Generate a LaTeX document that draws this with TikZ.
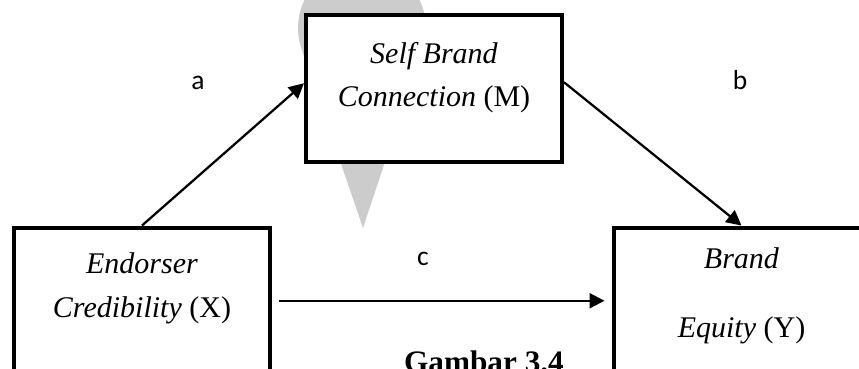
\documentclass[tikz,border=0pt]{standalone}
\usepackage{fontspec}
\setmainfont{Liberation Serif}
\newfontfamily\coeffont{Carlito}
\usetikzlibrary{arrows.meta,positioning}

\begin{document}
\begin{tikzpicture}[x=0.4pt, y=-0.4pt,
    varbox/.style={draw, fill=white, line width=1.6pt, minimum width=102.4pt, minimum height=58.6pt, inner sep=0pt},
    vartext/.style={align=center, inner sep=0pt, font=\fontsize{12}{17.4}\selectfont},
    link/.style={-{Triangle[length=6pt, width=6pt]}, line width=0.9pt},
    coef/.style={anchor=base, inner sep=0pt, font=\coeffont\fontsize{11}{13}\selectfont}]
\useasboundingbox (0,0) rectangle (859,368);
\clip (0,0) rectangle (859,368);

% grey mark behind the mediator
\fill[black!20] (363,228) -- (301.4,48.5) arc[start angle=161.34, end angle=378.66, radius=64] -- cycle;

% variables
\node[varbox] (X) at (142,300.75) {};
\node[varbox] (M) at (434,88.25) {};
\node[varbox] (Y) at (741.5,300.75) {};

\node[vartext, below=10.8pt of X.north] (Xtext) {\textit{Endorser}\\\textit{Credibility} (X)};
\node[vartext, below=11.4pt of M.north] (Mtext) {\textit{Self Brand}\\\textit{Connection} (M)};
\node[vartext, font=\fontsize{12}{27.6}\selectfont, below=8.8pt of Y.north] (Ytext) {\textit{Brand}\\\textit{Equity} (Y)};

% paths
\draw[link] (X.north) -- ([yshift=2pt]M.west);
\draw[link] ([yshift=2.4pt]M.east) -- (Y.north);
\draw[link] ([xshift=2.6pt]X.east) -- ([xshift=-2.8pt]Y.west);

\node[coef] (a) at (198,89) {a};
\node[coef] (b) at (740,89) {b};
\node[coef] (c) at (423,265) {c};

\node[anchor=base, inner sep=0pt, font=\fontsize{12.5}{15}\selectfont\bfseries] (caption) at (484,372) {Gambar 3.4};
\end{tikzpicture}
\end{document}
